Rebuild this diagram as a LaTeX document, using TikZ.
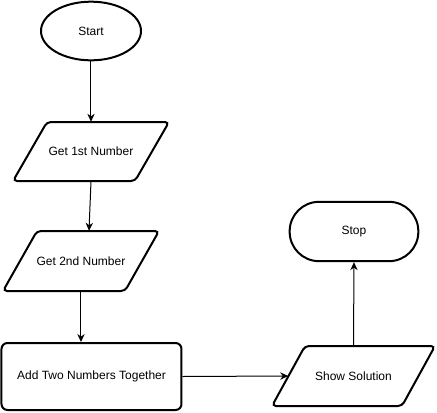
\documentclass[tikz,border=0pt]{standalone}
\usepackage{fontspec}
\setmainfont{Liberation Sans}
\usetikzlibrary{shapes.geometric,arrows.meta}
\begin{document}
\begin{tikzpicture}[x=0.75pt,y=-0.75pt,
  lbl/.style={font=\fontsize{9}{11}\selectfont, inner sep=0pt},
  box/.style={draw, line width=1.5pt, lbl},
  para/.style={draw, line width=1.5pt, rounded corners=3pt},
  anchorbox/.style={lbl, minimum width=#1},
  arr/.style={line width=0.75pt, -{Stealth[length=6pt,width=5.5pt]}}]
\useasboundingbox (0,0) rectangle (437,412);
% Start
\node[box, ellipse, minimum width=75pt, minimum height=44pt] (start) at (91,31) {Start};
% Get 1st Number
\draw[para] (47,122) -- (169,122) -- (135,181) -- (13,181) -- cycle;
\node[anchorbox=91.5pt, minimum height=44.25pt] (g1) at (91,151.5) {Get 1st Number};
% Get 2nd Number
\draw[para] (37,231) -- (159,231) -- (125,291) -- (3,291) -- cycle;
\node[anchorbox=91.5pt, minimum height=45pt] (g2) at (81,261) {Get 2nd Number};
% Add Two Numbers Together
\node[box, rounded corners=4.5pt, minimum width=135pt, minimum height=50.25pt] (add) at (91.5,376.5) {Add Two Numbers Together};
% Show Solution
\draw[para] (305,346) -- (435,346) -- (402,406) -- (272,406) -- cycle;
\node[anchorbox=97.5pt, minimum height=45pt] (show) at (353.5,376) {Show Solution};
% Stop
\node[box, rounded corners=22pt, minimum width=96.5pt, minimum height=44.5pt] (stop) at (354,231.5) {Stop};
% connectors
\draw[arr] (start.south) -- (g1.north);
\draw[arr] (g1.south) -- ([xshift=6pt]g2.north);
\draw[arr] (g2.south) -- (g2.south |- add.north);
\draw[arr] (add.east) -- (show.west);
\draw[arr] (show.north) -- (stop.south);
\end{tikzpicture}
\end{document}
